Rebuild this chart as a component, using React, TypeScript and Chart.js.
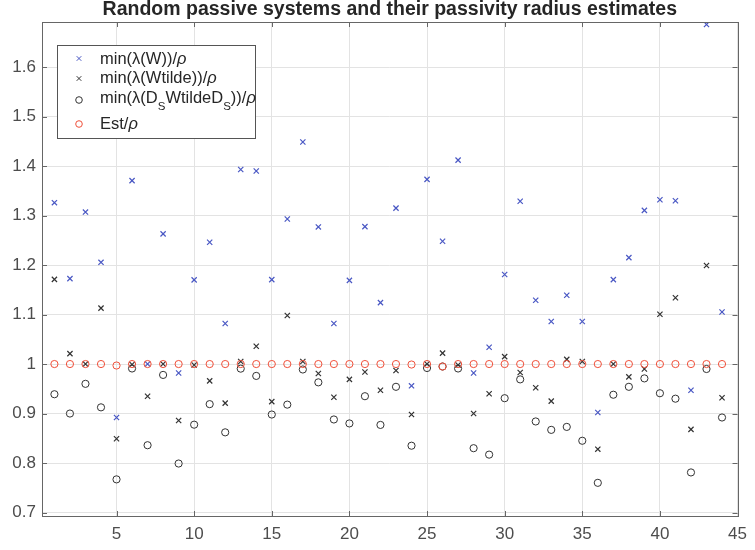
import React, { useEffect, useRef } from "react";
import { Chart, registerables } from "chart.js";

Chart.register(...registerables);

const xs = Array.from({ length: 44 }, (_, i) => i + 1);

const W = [1.326, 1.1725, 1.307, 1.2055, 0.892, 1.3705, 1.0, 1.263, 0.982, 1.17, 1.246, 1.082, 1.393, 1.39, 1.1705, 1.293, 1.4485, 1.277, 1.082, 1.169, 1.2776, 1.124, 1.315, 0.956, 1.373, 1.248, 1.412, 0.982, 1.034, 1.181, 1.329, 1.129, 1.086, 1.139, 1.086, 0.902, 1.1705, 1.215, 1.3105, 1.332, 1.33, 0.947, 1.686, 1.105];

const Wtilde = [1.171, 1.021, 1.0, 1.113, 0.849, 0.999, 0.935, 1.0, 0.886, 0.998, 0.966, 0.921, 1.005, 1.036, 0.924, 1.098, 1.005, 0.981, 0.933, 0.969, 0.984, 0.947, 0.987, 0.898, 1.0, 1.022, 0.998, 0.9, 0.94, 1.015, 0.983, 0.952, 0.925, 1.0095, 1.005, 0.828, 1.0, 0.974, 0.99, 1.1005, 1.134, 0.868, 1.199, 0.932];

const DsWDs = [0.939, 0.9, 0.96, 0.9125, 0.767, 0.991, 0.836, 0.978, 0.799, 0.8775, 0.919, 0.862, 0.9907, 0.976, 0.898, 0.918, 0.989, 0.963, 0.888, 0.88, 0.935, 0.877, 0.954, 0.835, 0.992, 0.995, 0.991, 0.83, 0.817, 0.931, 0.969, 0.884, 0.867, 0.873, 0.845, 0.76, 0.938, 0.954, 0.971, 0.941, 0.93, 0.781, 0.99, 0.892];

const Est = [1.0, 1.0, 1.0, 1.0, 0.997, 1.0, 1.0, 1.0, 1.0, 1.0, 1.0, 1.0, 1.0, 1.0, 1.0, 1.0, 1.0, 1.0, 1.0, 1.0, 1.0, 1.0, 1.0, 0.999, 1.0, 0.995, 1.0, 1.0, 1.0, 1.0, 1.0, 1.0, 1.0, 1.0, 1.0, 1.0, 1.0, 1.0, 1.0, 1.0, 1.0, 1.0, 1.0, 1.0];

const xTicks = [5, 10, 15, 20, 25, 30, 35, 40, 45];
const yTicks = [0.7, 0.8, 0.9, 1.0, 1.1, 1.2, 1.3, 1.4, 1.5, 1.6];

const TITLE = "Random passive systems and their passivity radius estimates";

const BLUE = "#4a58c4";
const DARK = "#333333";
const RED = "#f0503a";
const AXIS = "#666666";
const FONT = "'Liberation Sans', Arial, sans-serif";

type Seg = { t: string; italic?: boolean; sub?: boolean };

const LEGEND: { label: Seg[]; style: string; color: string }[] = [
  { label: [{ t: "min(λ(W))/" }, { t: "ρ", italic: true }], style: "crossRot", color: BLUE },
  { label: [{ t: "min(λ(Wtilde))/" }, { t: "ρ", italic: true }], style: "crossRot", color: DARK },
  {
    label: [
      { t: "min(λ(D" },
      { t: "S", sub: true },
      { t: "WtildeD" },
      { t: "S", sub: true },
      { t: "))/" },
      { t: "ρ", italic: true },
    ],
    style: "circle",
    color: DARK,
  },
  { label: [{ t: "Est/" }, { t: "ρ", italic: true }], style: "circle", color: RED },
];

const toPts = (arr: number[]) => arr.map((v, i) => ({ x: xs[i], y: v }));

const decorPlugin = {
  id: "decor",
  beforeDraw(chart: any) {
    const { ctx } = chart;
    ctx.save();
    ctx.fillStyle = "#ffffff";
    ctx.fillRect(0, 0, chart.width, chart.height);
    ctx.restore();
  },
  afterDatasetsDraw(chart: any) {
    const { ctx, chartArea: a, scales } = chart;
    ctx.save();
    ctx.strokeStyle = AXIS;
    ctx.lineWidth = 1;
    ctx.strokeRect(Math.round(a.left) + 0.5, Math.round(a.top) + 0.5, Math.round(a.right - a.left), Math.round(a.bottom - a.top));
    const tl = 5;
    ctx.beginPath();
    for (const v of xTicks) {
      const px = Math.round(scales.x.getPixelForValue(v)) + 0.5;
      ctx.moveTo(px, a.bottom);
      ctx.lineTo(px, a.bottom - tl);
      ctx.moveTo(px, a.top);
      ctx.lineTo(px, a.top + tl);
    }
    for (const v of yTicks) {
      const py = Math.round(scales.y.getPixelForValue(v)) + 0.5;
      ctx.moveTo(a.left, py);
      ctx.lineTo(a.left + tl, py);
      ctx.moveTo(a.right, py);
      ctx.lineTo(a.right - tl, py);
    }
    ctx.stroke();
    ctx.restore();
  },
  afterDraw(chart: any) {
    const { ctx, chartArea: a } = chart;
    ctx.save();
    // title
    ctx.fillStyle = "#262626";
    ctx.font = `bold 19.5px ${FONT}`;
    ctx.textAlign = "center";
    ctx.textBaseline = "alphabetic";
    ctx.fillText(TITLE, (a.left + a.right) / 2, 15);

    // legend box
    const bx = 57.5, by = 45.5, bw = 198, bh = 93;
    ctx.fillStyle = "#ffffff";
    ctx.fillRect(bx, by, bw, bh);
    ctx.strokeStyle = "#555555";
    ctx.lineWidth = 1;
    ctx.strokeRect(bx, by, bw, bh);

    const rowsY = [59, 78.5, 98, 124];
    const markY = [58.5, 78.5, 100, 124];
    ctx.textAlign = "left";
    ctx.textBaseline = "middle";
    LEGEND.forEach((item, i) => {
      // marker
      ctx.strokeStyle = item.color;
      ctx.lineWidth = 1;
      const mx = 79, my = markY[i];
      ctx.beginPath();
      if (item.style === "circle") {
        ctx.arc(mx, my, 3.3, 0, Math.PI * 2);
      } else {
        const r = 2.3;
        ctx.moveTo(mx - r, my - r);
        ctx.lineTo(mx + r, my + r);
        ctx.moveTo(mx - r, my + r);
        ctx.lineTo(mx + r, my - r);
      }
      ctx.stroke();
      // text
      let x = 100;
      ctx.fillStyle = "#262626";
      for (const s of item.label) {
        if (s.sub) {
          ctx.font = `11.5px ${FONT}`;
          ctx.fillText(s.t, x, rowsY[i] + 9);
        } else {
          ctx.font = `${s.italic ? "italic " : ""}16.5px ${FONT}`;
          ctx.fillText(s.t, x, rowsY[i]);
        }
        x += ctx.measureText(s.t).width;
      }
    });
    ctx.restore();
  },
};

export default function App() {
  const ref = useRef<HTMLCanvasElement | null>(null);

  useEffect(() => {
    document.body.style.margin = "0";
    const canvas = ref.current;
    if (!canvas) return;
    const tickFont = { family: FONT, size: 17 };
    const chart = new Chart(canvas, {
      type: "scatter",
      data: {
        datasets: [
          {
            label: "W",
            data: toPts(W),
            pointStyle: "crossRot",
            pointRadius: 3.7,
            borderColor: BLUE,
            backgroundColor: BLUE,
            pointBorderWidth: 1.2,
            order: 4,
          },
          {
            label: "Wtilde",
            data: toPts(Wtilde),
            pointStyle: "crossRot",
            pointRadius: 3.7,
            borderColor: DARK,
            backgroundColor: DARK,
            pointBorderWidth: 1.2,
            order: 3,
          },
          {
            label: "DsWDs",
            data: toPts(DsWDs),
            pointStyle: "circle",
            pointRadius: 3.6,
            borderColor: DARK,
            backgroundColor: "rgba(0,0,0,0)",
            pointBorderWidth: 1,
            order: 2,
          },
          {
            label: "Est",
            data: toPts(Est),
            pointStyle: "circle",
            pointRadius: 3.6,
            borderColor: RED,
            backgroundColor: "rgba(0,0,0,0)",
            pointBorderWidth: 1,
            order: 1,
          },
        ],
      },
      options: {
        animation: false,
        responsive: false,
        devicePixelRatio: 1,
        layout: { padding: { top: 22, right: 9, left: 0, bottom: 0 } },
        plugins: {
          legend: { display: false },
          title: { display: false },
          tooltip: { enabled: false },
        },
        scales: {
          x: {
            type: "linear",
            min: 0.2,
            max: 45,
            afterBuildTicks: (s: any) => {
              s.ticks = xTicks.map((v) => ({ value: v }));
            },
            afterFit: (s: any) => {
              s.height = 34;
            },
            grid: { color: "#e3e3e3", drawTicks: false, lineWidth: 1 },
            border: { display: false },
            ticks: {
              font: tickFont,
              color: "#4d4d4d",
              padding: 8,
              maxRotation: 0,
              callback: (v: any) => String(v),
            },
          },
          y: {
            type: "linear",
            min: 0.693,
            max: 1.691,
            afterBuildTicks: (s: any) => {
              s.ticks = yTicks.map((v) => ({ value: v }));
            },
            afterFit: (s: any) => {
              s.width = 42;
            },
            grid: { color: "#e3e3e3", drawTicks: false, lineWidth: 1 },
            border: { display: false },
            ticks: {
              font: tickFont,
              color: "#4d4d4d",
              padding: 6,
              callback: (v: any) => String(+Number(v).toFixed(1)),
            },
          },
        },
      },
      plugins: [decorPlugin],
    });
    return () => chart.destroy();
  }, []);

  return (
    <div style={{ position: "absolute", left: 0, top: 0, width: 755, height: 550 }}>
      <canvas ref={ref} width={755} height={550} style={{ display: "block", width: 755, height: 550 }} />
    </div>
  );
}
